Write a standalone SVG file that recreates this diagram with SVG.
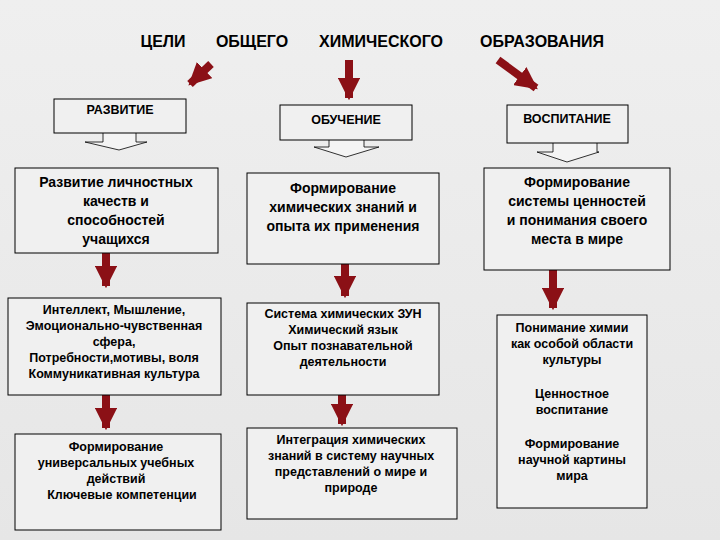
<svg xmlns="http://www.w3.org/2000/svg" width="720" height="540" viewBox="0 0 720 540">
<defs>
<linearGradient id="bg" x1="0" y1="0" x2="0" y2="1"><stop offset="0" stop-color="#efefef"/><stop offset="1" stop-color="#e6e6e6"/></linearGradient>
<marker id="ah" viewBox="0 0 10 10" refX="9" refY="5" markerWidth="2.8" markerHeight="2.8" orient="auto" markerUnits="strokeWidth"><path d="M0,0 L10,5 L0,10 z" fill="#8b1016"/></marker>
</defs>
<style>
.b{fill:#f0f0f0;stroke:#000;stroke-width:1}
.t{font-family:"Liberation Sans",Arial,sans-serif;font-weight:bold;text-anchor:middle;fill:#000}
.h{font-size:16px}
.m{font-size:14px}
.s{font-size:12.5px}
.ra{stroke:#8b1016;stroke-width:8;fill:none;marker-end:url(#ah)}
.ba{fill:#f4f4f4;stroke:#000;stroke-width:0.8}
</style>
<rect width="720" height="540" fill="url(#bg)"/>
<g id="title" class="t h"><text x="163" y="47">ЦЕЛИ</text><text x="252" y="47">ОБЩЕГО</text><text x="381" y="47">ХИМИЧЕСКОГО</text><text x="542" y="47">ОБРАЗОВАНИЯ</text></g>
<g id="connectors">
<line class="ra" x1="211" y1="64" x2="190" y2="84"/>
<line class="ra" x1="349" y1="60" x2="349" y2="98"/>
<line class="ra" x1="498" y1="60" x2="536" y2="88"/>
<line class="ra" x1="106" y1="253" x2="106" y2="286"/>
<line class="ra" x1="345" y1="264" x2="345" y2="296"/>
<line class="ra" x1="553" y1="270" x2="553" y2="308"/>
<line class="ra" x1="106" y1="395" x2="106" y2="428"/>
<line class="ra" x1="342" y1="395" x2="342" y2="424"/>
<path class="ba" d="M103,133 V142 H85 L119,150 L147,142 H136 V133"/>
<path class="ba" d="M329,140 V147 H314 L346,157 L379,147 H364 V140"/>
<path class="ba" d="M553,143 V152 H537 L567,162 L599,152 H597 V143"/>
</g>
<g id="n1"><rect class="b" x="54" y="99" width="132" height="34"/><text class="t s" x="120" y="114">РАЗВИТИЕ</text></g>
<g id="n2"><rect class="b" x="280" y="105" width="132" height="35"/><text class="t s" x="346" y="124">ОБУЧЕНИЕ</text></g>
<g id="n3"><rect class="b" x="507" y="105" width="121" height="38"/><text class="t s" x="567" y="123">ВОСПИТАНИЕ</text></g>
<g id="n4"><rect class="b" x="15" y="168" width="203" height="85"/><text class="t m" x="116" y="187">Развитие личностных<tspan x="116" dy="19">качеств и</tspan><tspan x="116" dy="19">способностей</tspan><tspan x="116" dy="19">учащихся</tspan></text></g>
<g id="n5"><rect class="b" x="247" y="173" width="192" height="91"/><text class="t m" x="343" y="193">Формирование<tspan x="343" dy="19">химических знаний и</tspan><tspan x="343" dy="19">опыта их применения</tspan></text></g>
<g id="n6"><rect class="b" x="484" y="168" width="186" height="102"/><text class="t m" x="577" y="187">Формирование<tspan x="577" dy="19">системы ценностей</tspan><tspan x="577" dy="19">и понимания своего</tspan><tspan x="577" dy="19">места в мире</tspan></text></g>
<g id="n7"><rect class="b" x="8" y="298" width="213" height="97"/><text class="t s" x="114" y="314">Интеллект, Мышление,<tspan x="114" dy="16">Эмоционально-чувственная</tspan><tspan x="114" dy="16">сфера,</tspan><tspan x="114" dy="16">Потребности,мотивы, воля</tspan><tspan x="114" dy="16">Коммуникативная культура</tspan></text></g>
<g id="n8"><rect class="b" x="247" y="303" width="192" height="92"/><text class="t s" x="343" y="318">Система  химических ЗУН<tspan x="343" dy="16">Химический язык</tspan><tspan x="343" dy="16">Опыт познавательной</tspan><tspan x="343" dy="16">деятельности</tspan></text></g>
<g id="n9"><rect class="b" x="497" y="315" width="150" height="193"/><text class="t s" x="572" y="332">Понимание химии<tspan x="572" dy="16">как особой области</tspan><tspan x="572" dy="16">культуры</tspan><tspan x="572" dy="34">Ценностное</tspan><tspan x="572" dy="16">воспитание</tspan><tspan x="572" dy="34">Формирование</tspan><tspan x="572" dy="16">научной картины</tspan><tspan x="572" dy="16">мира</tspan></text></g>
<g id="n10"><rect class="b" x="15" y="434" width="206" height="96"/><text class="t s" x="116" y="451">Формирование<tspan x="116" dy="16">универсальных учебных</tspan><tspan x="116" dy="16">действий</tspan><tspan x="122" dy="16">Ключевые компетенции</tspan></text></g>
<g id="n11"><rect class="b" x="247" y="428" width="210" height="91"/><text class="t s" x="351" y="444">Интеграция химических<tspan x="351" dy="16">знаний в систему научных</tspan><tspan x="351" dy="16">представлений  о мире и</tspan><tspan x="351" dy="16">природе</tspan></text></g>
</svg>
